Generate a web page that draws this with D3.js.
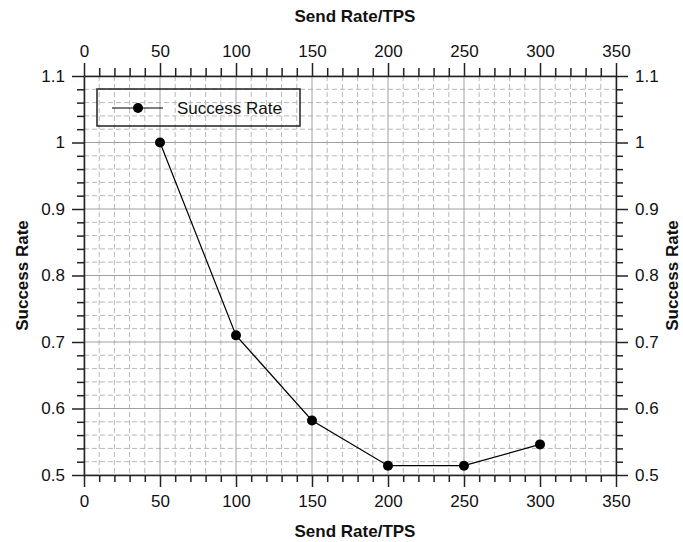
<!DOCTYPE html>
<html>
<head>
<meta charset="utf-8">
<script src="https://cdn.jsdelivr.net/npm/d3@7"></script>
<style>
  body { margin: 0; background: #fff; }
  text { font-family: "Liberation Sans", Arial, sans-serif; fill: #111; }
</style>
</head>
<body>
<div id="chart"></div>
<script>
// data
const sendRate = [50, 100, 150, 200, 250, 300]
const successRate = [1.0, 0.71, 0.582, 0.514, 0.514, 0.546]
const xTicks = [0, 50, 100, 150, 200, 250, 300, 350]
const yTicks = [0.5, 0.6, 0.7, 0.8, 0.9, 1, 1.1]
const seriesName = "Success Rate"
const xTitle = "Send Rate/TPS"
const yTitle = "Success Rate"

const W = 683, H = 542
const margin = {top: 76, right: 67, bottom: 67, left: 84}
const width = W - margin.left - margin.right
const height = H - margin.top - margin.bottom

const svg = d3.select("#chart")
  .append("svg")
    .attr("width", W)
    .attr("height", H)
  .append("g")
    .attr("transform", "translate(" + margin.left + "," + margin.top + ")")

const x = d3.scaleLinear().domain([0, 350]).range([0, width])
const y = d3.scaleLinear().domain([0.5, 1.1]).range([height, 0])

const xMinor = d3.range(0, 351, 10).filter(v => v % 50 !== 0)
const yMinor = d3.range(0, 31).map(i => 0.5 + i * 0.02).filter((v, i) => i % 5 !== 0)

// minor grid (dashed)
svg.append("g").selectAll("line").data(xMinor).join("line")
  .attr("x1", d => x(d)).attr("x2", d => x(d))
  .attr("y1", 0).attr("y2", height)
  .attr("stroke", "#b8b8b8").attr("stroke-dasharray", "5,3")
svg.append("g").selectAll("line").data(yMinor).join("line")
  .attr("y1", d => y(d)).attr("y2", d => y(d))
  .attr("x1", 0).attr("x2", width)
  .attr("stroke", "#b8b8b8").attr("stroke-dasharray", "5,3")

// major grid
svg.append("g").selectAll("line").data(xTicks).join("line")
  .attr("x1", d => x(d)).attr("x2", d => x(d))
  .attr("y1", 0).attr("y2", height)
  .attr("stroke", "#a0a0a0")
svg.append("g").selectAll("line").data(yTicks).join("line")
  .attr("y1", d => y(d)).attr("y2", d => y(d))
  .attr("x1", 0).attr("x2", width)
  .attr("stroke", "#a0a0a0")

// axes
function styleAxis(g) {
  g.select(".domain").attr("stroke", "#222").attr("stroke-width", 1.5)
  g.selectAll(".tick line").attr("stroke", "#222").attr("stroke-width", 1.5)
  g.selectAll("text").attr("font-size", 17).attr("fill", "#1a1a1a")
    .style("font-family", "'Liberation Sans', Arial, sans-serif")
}
function minorAxis(axisFn, scale, vals, len, tr) {
  const g = svg.append("g").attr("transform", tr)
    .call(axisFn(scale).tickValues(vals).tickSize(len).tickFormat(""))
  g.select(".domain").remove()
  g.selectAll(".tick line").attr("stroke", "#222").attr("stroke-width", 1.5)
}

const xb = svg.append("g").attr("transform", "translate(0," + height + ")")
  .call(d3.axisBottom(x).tickValues(xTicks).tickSize(12).tickPadding(8).tickSizeOuter(0))
styleAxis(xb)
const xt = svg.append("g")
  .call(d3.axisTop(x).tickValues(xTicks).tickSize(13).tickPadding(6).tickSizeOuter(0))
styleAxis(xt)
const yl = svg.append("g")
  .call(d3.axisLeft(y).tickValues(yTicks).tickSize(12).tickPadding(7).tickSizeOuter(0).tickFormat(d3.format("")))
styleAxis(yl)
const yr = svg.append("g").attr("transform", "translate(" + width + ",0)")
  .call(d3.axisRight(y).tickValues(yTicks).tickSize(12).tickPadding(7).tickSizeOuter(0).tickFormat(d3.format("")))
styleAxis(yr)

minorAxis(d3.axisBottom, x, xMinor, 7, "translate(0," + height + ")")
minorAxis(d3.axisTop, x, xMinor, 8, "translate(0,0)")
minorAxis(d3.axisLeft, y, yMinor, 7, "translate(0,0)")
minorAxis(d3.axisRight, y, yMinor, 7, "translate(" + width + ",0)")

// axis titles
svg.append("text")
  .attr("x", width / 2 + 5).attr("y", -54)
  .attr("text-anchor", "middle").attr("font-size", 17).attr("font-weight", "bold")
  .text(xTitle)
svg.append("text")
  .attr("x", width / 2 + 5).attr("y", height + 62)
  .attr("text-anchor", "middle").attr("font-size", 17).attr("font-weight", "bold")
  .text(xTitle)
svg.append("text")
  .attr("transform", "translate(-56," + (height / 2) + ") rotate(-90)")
  .attr("text-anchor", "middle").attr("font-size", 17).attr("font-weight", "bold")
  .text(yTitle)
svg.append("text")
  .attr("transform", "translate(" + (width + 62) + "," + (height / 2) + ") rotate(-90)")
  .attr("text-anchor", "middle").attr("font-size", 17).attr("font-weight", "bold")
  .text(yTitle)

// line + markers
const pts = sendRate.map((v, i) => ({x: v, y: successRate[i]}))
svg.append("path")
  .datum(pts)
  .attr("fill", "none")
  .attr("stroke", "#000")
  .attr("stroke-width", 1.2)
  .attr("d", d3.line().x(d => x(d.x)).y(d => y(d.y)))
svg.append("g").selectAll("circle").data(pts).join("circle")
  .attr("cx", d => x(d.x)).attr("cy", d => y(d.y))
  .attr("r", 5).attr("fill", "#000")

// legend
const lg = svg.append("g").attr("transform", "translate(13,13)")
lg.append("rect")
  .attr("width", 203).attr("height", 37)
  .attr("fill", "none").attr("stroke", "#222").attr("stroke-width", 1.5)
lg.append("line")
  .attr("x1", 15).attr("x2", 66).attr("y1", 19).attr("y2", 19)
  .attr("stroke", "#000").attr("stroke-width", 1.2)
lg.append("circle").attr("cx", 41).attr("cy", 19).attr("r", 5).attr("fill", "#000")
lg.append("text")
  .attr("x", 80).attr("y", 25)
  .attr("font-size", 17)
  .text(seriesName)
</script>
</body>
</html>
